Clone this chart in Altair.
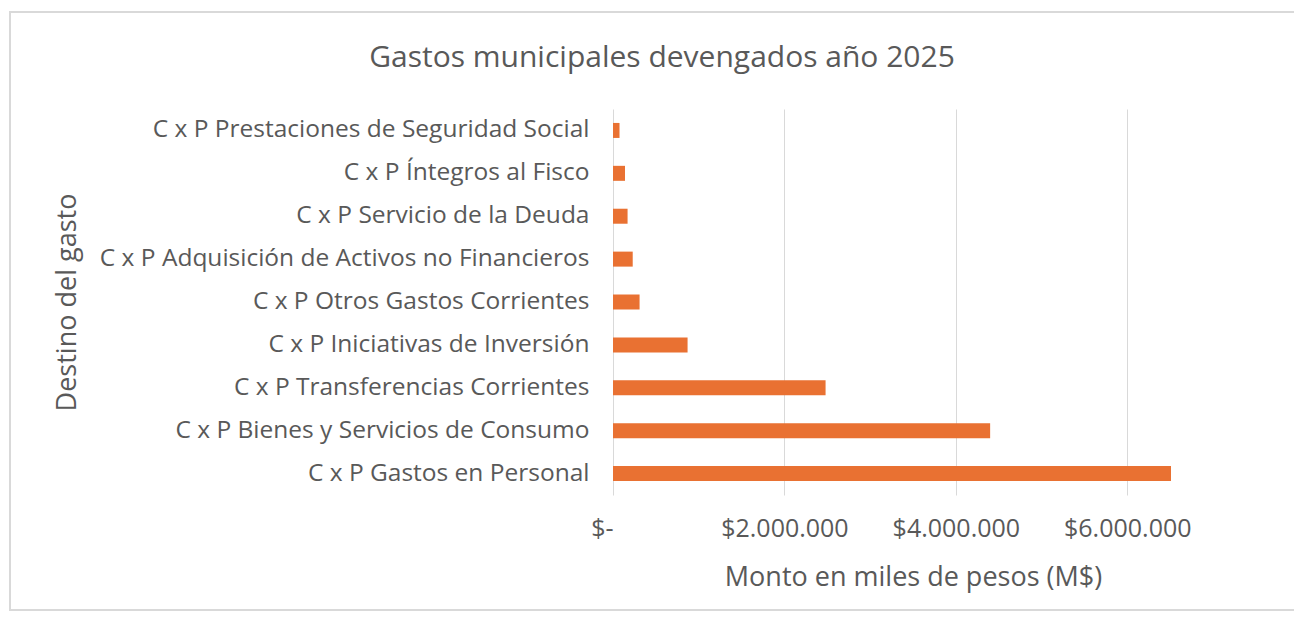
import altair as alt
import pandas as pd

categorias = [
    "C x P Prestaciones de Seguridad Social",
    "C x P Íntegros al Fisco",
    "C x P Servicio de la Deuda",
    "C x P Adquisición de Activos no Financieros",
    "C x P Otros Gastos Corrientes",
    "C x P Iniciativas de Inversión",
    "C x P Transferencias Corrientes",
    "C x P Bienes y Servicios de Consumo",
    "C x P Gastos en Personal",
]
montos = [76000, 140000, 170000, 230000, 310000, 870000, 2480000, 4400000, 6510000]
ticks = [0, 2000000, 4000000, 6000000]
titulo = "Gastos municipales devengados año 2025"

df = pd.DataFrame({"destino": categorias, "monto": montos})

FONT = "Open Sans"
GRAY = "#595959"
W, H = 600, 386

bars = alt.Chart(df).mark_bar(color="#E97132", size=15).encode(
    y=alt.Y(
        "destino:N",
        sort=categorias,
        title="Destino del gasto",
        axis=alt.Axis(
            labelFontSize=24.5,
            labelColor=GRAY,
            labelFont=FONT,
            labelPadding=24,
            labelLimit=700,
            ticks=False,
            domain=False,
            grid=False,
            titleFontSize=27,
            titleFont=FONT,
            titleColor=GRAY,
            titleFontWeight="normal",
            titleX=-546,
            titleY=H / 2,
            titleAlign="center",
            titleBaseline="middle",
            titleAngle=270,
        ),
    ),
    x=alt.X(
        "monto:Q",
        scale=alt.Scale(domain=[0, 7000000], nice=False),
        title="Monto en miles de pesos (M$)",
        axis=alt.Axis(
            values=ticks,
            labelExpr="datum.value == 0 ? '$-' : '$' + replace(format(datum.value, ',.0f'), /,/g, '.')",
            labelAlign={"condition": {"test": "datum.value == 0", "value": "right"}, "value": "center"},
            labelFontSize=25,
            labelColor=GRAY,
            labelFont=FONT,
            labelPadding=21,
            labelFlush=False,
            labelOverlap=False,
            ticks=False,
            domain=False,
            grid=True,
            gridColor="#D9D9D9",
            gridWidth=1,
            titleFontSize=27,
            titleFont=FONT,
            titleColor=GRAY,
            titleFontWeight="normal",
            titlePadding=23,
        ),
    ),
)

frame = alt.Chart(pd.DataFrame({"a": [0]})).mark_rect(
    fill="transparent", stroke="#D9D9D9", strokeWidth=2
).encode(
    x=alt.value(-603), x2=alt.value(687), y=alt.value(-97), y2=alt.value(501)
)

title_mark = alt.Chart(pd.DataFrame({"t": [titulo]})).mark_text(
    fontSize=30, font=FONT, color=GRAY, align="center", baseline="middle"
).encode(
    text="t:N", x=alt.value(49), y=alt.value(-51)
)

chart = (
    alt.layer(frame, bars, title_mark)
    .properties(
        width=W,
        height=H,
        background="white",
        autosize=alt.AutoSizeParams(type="none"),
        padding={"left": 605, "top": 101, "right": 81, "bottom": 116},
    )
    .configure_view(stroke=None, strokeWidth=0)
)

chart.save("out.html", embed_options={"renderer": "svg", "actions": False})
